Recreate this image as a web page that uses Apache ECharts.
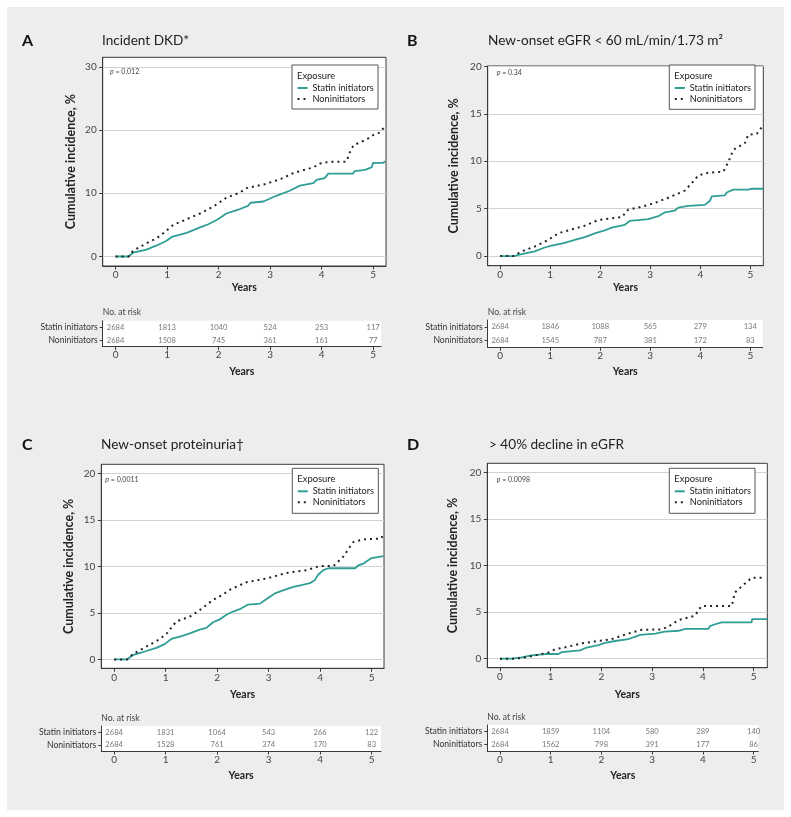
<!DOCTYPE html>
<html><head><meta charset="utf-8">
<script src="https://cdn.jsdelivr.net/npm/echarts@6/dist/echarts.min.js"></script>
<style>
html,body{margin:0;padding:0;background:#fff;}
#bg{position:absolute;left:7px;top:7px;width:777px;height:803px;background:#ecedec;}
#c{position:absolute;left:0;top:0;width:791px;height:817px;}
</style>
</head><body><div id="bg"></div><div id="c"></div>
<script>
// ---------------- DATA ----------------
const yearTicks = [0, 1, 2, 3, 4, 5];
const groups = ['Statin initiators', 'Noninitiators'];
const yTicksA = [0, 10, 20, 30];
const yTicksBCD = [0, 5, 10, 15, 20];

const titleA = 'Incident DKD*';
const titleB = 'New-onset eGFR < 60 mL/min/1.73 m²';
const titleC = 'New-onset proteinuria†';
const titleD = '> 40% decline in eGFR';

const pA = '0.012', pB = '0.34', pC = '0.0011', pD = '0.0098';

// cumulative incidence (%) vs years
const statinA = [[0,0],[0.25,0],[0.34,0.6],[0.6,1.1],[0.8,1.75],[0.99,2.5],[1.09,3.1],[1.38,3.75],[1.64,4.6],[1.8,5.1],[1.99,5.9],[2.15,6.8],[2.38,7.4],[2.57,8.0],[2.62,8.5],[2.87,8.7],[3.12,9.6],[3.38,10.4],[3.58,11.2],[3.84,11.6],[3.9,12.1],[4.06,12.4],[4.13,13.1],[4.61,13.1],[4.64,13.5],[4.84,13.7],[4.87,14.0],[4.97,14.1],[5.0,14.8],[5.2,14.8],[5.23,15.1]];
const nonA = [[0,0],[0.25,0],[0.34,0.9],[0.6,2.1],[0.8,2.9],[0.99,4.1],[1.12,5.0],[1.38,5.9],[1.64,6.8],[1.9,7.9],[2.15,9.3],[2.41,10.1],[2.54,10.8],[2.93,11.5],[3.25,12.4],[3.45,13.2],[3.84,14.1],[3.97,14.7],[4.16,15.0],[4.48,15.0],[4.55,16.5],[4.62,17.6],[4.87,18.5],[5.0,19.2],[5.13,19.6],[5.2,20.3],[5.23,20.7]];

const statinB = [[0,0],[0.27,0],[0.43,0.2],[0.69,0.5],[0.89,0.9],[1.03,1.1],[1.29,1.4],[1.49,1.7],[1.69,2.0],[1.89,2.4],[2.09,2.7],[2.23,3.0],[2.49,3.3],[2.59,3.7],[2.96,3.9],[3.16,4.2],[3.29,4.6],[3.49,4.8],[3.56,5.1],[3.76,5.3],[4.09,5.4],[4.19,5.8],[4.23,6.3],[4.49,6.4],[4.53,6.7],[4.66,7.0],[4.96,7.0],[5.03,7.1],[5.26,7.1]];
const nonB = [[0,0],[0.27,0],[0.43,0.5],[0.69,1.0],[0.96,1.7],[1.16,2.4],[1.36,2.7],[1.69,3.2],[1.96,3.8],[2.43,4.1],[2.56,4.9],[2.83,5.2],[3.09,5.6],[3.43,6.3],[3.69,6.9],[3.83,7.7],[3.96,8.5],[4.16,8.8],[4.46,8.9],[4.56,9.9],[4.66,11.2],[4.89,11.9],[4.96,12.8],[5.13,12.9],[5.23,13.6]];

const statinC = [[0,0],[0.25,0],[0.37,0.5],[0.56,0.8],[0.82,1.25],[0.98,1.65],[1.11,2.2],[1.31,2.5],[1.47,2.8],[1.66,3.2],[1.79,3.4],[1.92,4.0],[2.05,4.3],[2.18,4.8],[2.31,5.15],[2.44,5.4],[2.6,5.9],[2.83,6.0],[2.96,6.5],[3.12,7.1],[3.32,7.5],[3.48,7.8],[3.64,8.0],[3.8,8.2],[3.9,8.55],[3.96,9.1],[4.06,9.6],[4.16,9.8],[4.68,9.8],[4.74,10.1],[4.84,10.3],[5.0,10.9],[5.23,11.1]];
const nonC = [[0,0],[0.25,0],[0.37,0.6],[0.63,1.4],[0.89,2.2],[1.02,2.8],[1.21,4.1],[1.47,4.6],[1.66,5.3],[1.92,6.4],[2.09,6.9],[2.25,7.5],[2.57,8.3],[2.96,8.7],[3.35,9.3],[3.74,9.6],[4.0,10.05],[4.26,10.05],[4.45,11.05],[4.64,12.6],[4.84,12.9],[5.19,13.0],[5.23,13.6]];

const statinD = [[0,0],[0.25,0],[0.43,0.15],[0.62,0.35],[0.89,0.5],[1.15,0.5],[1.22,0.7],[1.58,0.9],[1.71,1.2],[1.94,1.45],[2.07,1.7],[2.27,1.9],[2.53,2.1],[2.63,2.3],[2.76,2.55],[3.06,2.7],[3.25,2.9],[3.52,3.0],[3.65,3.2],[4.11,3.2],[4.14,3.5],[4.24,3.7],[4.37,3.9],[4.96,3.9],[4.97,4.25],[5.27,4.25]];
const nonD = [[0,0],[0.25,0],[0.43,0.07],[0.69,0.35],[0.95,0.65],[1.08,1.0],[1.35,1.3],[1.61,1.65],[1.87,1.85],[2.2,2.1],[2.53,2.7],[2.79,3.1],[3.19,3.15],[3.32,3.45],[3.52,4.15],[3.84,4.6],[3.97,5.65],[4.57,5.65],[4.63,7.1],[4.76,7.75],[4.89,8.35],[4.96,8.7],[5.19,8.7]];

// number at risk at years 0..5
const riskStatinA = [2684, 1813, 1040, 524, 253, 117];
const riskNonA    = [2684, 1508, 745, 361, 161, 77];
const riskStatinB = [2684, 1846, 1088, 565, 279, 134];
const riskNonB    = [2684, 1545, 787, 381, 172, 83];
const riskStatinC = [2684, 1831, 1064, 543, 266, 122];
const riskNonC    = [2684, 1528, 761, 374, 170, 83];
const riskStatinD = [2684, 1859, 1104, 580, 289, 140];
const riskNonD    = [2684, 1562, 798, 391, 177, 86];

// ---------------- LAYOUT / STYLE ----------------
const FONT = 'Lato';
const TEAL = '#2f9e95';
const DARK = '#222';

const panels = [
  {letter:'A', title:titleA, p:pA, statin:statinA, non:nonA, rS:riskStatinA, rN:riskNonA, yTicks:yTicksA,
   plot:{l:102.7,t:57.3,r:386,b:266}, yr:[-1.5,31.5], xr:[-0.25,5.25],
   table:{l:102.7,t:320.7,r:381,b:346.7}, head:[22,41], titleX:102, yGap:25.5, xGap:16.5,
   box:{x:292,y:65,w:86,h:44}, pPos:[110,72]},
  {letter:'B', title:titleB, p:pB, statin:statinB, non:nonB, rS:riskStatinB, rN:riskNonB, yTicks:yTicksBCD,
   plot:{l:487.7,t:66,r:763.3,b:265.7}, yr:[-1.02,20.05], xr:[-0.25,5.26],
   table:{l:487.7,t:320,r:762.7,b:347.3}, head:[407,41], titleX:488, yGap:27.5, xGap:16.5,
   box:{x:669.3,y:65,w:85.7,h:44.3}, pPos:[496.7,72.3]},
  {letter:'C', title:titleC, p:pC, statin:statinC, non:nonC, rS:riskStatinC, rN:riskNonC, yTicks:yTicksBCD,
   plot:{l:101.3,t:464.3,r:384,b:668.3}, yr:[-0.95,20.97], xr:[-0.25,5.24],
   table:{l:101.3,t:726,r:381,b:751}, head:[22,445], titleX:101, yGap:26, xGap:20.5,
   box:{x:292.3,y:468.3,w:86,h:45}, pPos:[105.3,480]},
  {letter:'D', title:titleD, p:pD, statin:statinD, non:nonD, rS:riskStatinD, rN:riskNonD, yTicks:yTicksBCD,
   plot:{l:487.3,t:463.3,r:767.3,b:667.7}, yr:[-0.97,21.0], xr:[-0.25,5.27],
   table:{l:487.3,t:725,r:758.3,b:751}, head:[407,445], titleX:489, yGap:28, xGap:21,
   box:{x:669.3,y:468.3,w:85.7,h:45}, pPos:[496.7,480]}
];

const grid = [], xAxis = [], yAxis = [], series = [], legend = [], graphic = [];

panels.forEach((P, i) => {
  const gi = 2 * i, ti = 2 * i + 1;
  const pl = P.plot, tb = P.table;
  grid.push({left:pl.l, top:pl.t, width:pl.r-pl.l, height:pl.b-pl.t, show:true,
             backgroundColor:'#fff', borderColor:'#3a3a3a', borderWidth:1, containLabel:false});
  const pxPerYear = (pl.r - pl.l) / (P.xr[1] - P.xr[0]);
  const tMin = P.xr[0] + (tb.l - pl.l) / pxPerYear;
  const tMax = tMin + (tb.r - tb.l) / pxPerYear;
  grid.push({left:tb.l, top:tb.t, width:tb.r-tb.l, height:tb.b-tb.t, show:true,
             backgroundColor:'#fff', borderWidth:0, containLabel:false});

  const xCommon = (idx, min, max, gap, margin) => ({
    gridIndex: idx, type:'value', min, max,
    axisLine:{show:true, onZero:false, lineStyle:{color:'#3a3a3a', width:1}},
    axisTick:{show:true, length:3.5, customValues:yearTicks, lineStyle:{color:'#3a3a3a'}},
    axisLabel:{customValues:yearTicks, fontSize:10, color:'#444', margin, fontFamily:FONT},
    splitLine:{show:false},
    name:'Years', nameLocation:'middle', nameGap:gap,
    nameTextStyle:{fontWeight:'bold', fontSize:10.5, color:DARK, fontFamily:FONT}
  });
  xAxis.push(xCommon(gi, P.xr[0], P.xr[1], P.xGap, 4));
  xAxis.push(xCommon(ti, tMin, tMax, 19, 3.5));

  yAxis.push({gridIndex:gi, type:'value', min:P.yr[0], max:P.yr[1],
    axisLine:{show:true, onZero:false, lineStyle:{color:'#3a3a3a', width:1}},
    axisTick:{show:true, length:3.5, customValues:P.yTicks, lineStyle:{color:'#3a3a3a'}},
    axisLabel:{customValues:P.yTicks, fontSize:10, color:'#444', margin:6, fontFamily:FONT},
    splitLine:{show:true, lineStyle:{color:'#d2d2d2', width:1.2}},
    name:'Cumulative incidence, %', nameLocation:'middle', nameGap:P.yGap,
    nameTextStyle:{fontWeight:'bold', fontSize:12.5, color:DARK, fontFamily:FONT}
  });
  yAxis.push({gridIndex:ti, type:'category', data:groups, inverse:true,
    axisLine:{show:true, onZero:false, lineStyle:{color:'#3a3a3a', width:1}},
    axisTick:{show:true, length:3, alignWithLabel:true, lineStyle:{color:'#3a3a3a'}},
    axisLabel:{fontSize:8.6, color:'#333', margin:5, fontFamily:FONT},
    splitLine:{show:false}
  });

  series.push({name:groups[0], type:'line', xAxisIndex:gi, yAxisIndex:gi, data:P.statin,
    symbol:'none', showSymbol:false, z:3,
    lineStyle:{color:TEAL, width:1.8}, itemStyle:{color:TEAL}});
  series.push({name:groups[1], type:'line', xAxisIndex:gi, yAxisIndex:gi, data:P.non,
    symbol:'none', showSymbol:false, z:3,
    lineStyle:{color:DARK, width:2, type:[2,4]}, itemStyle:{color:DARK}});

  const riskData = [];
  yearTicks.forEach((yr, j) => {
    riskData.push([yr, 0, P.rS[j]]);
    riskData.push([yr, 1, P.rN[j]]);
  });
  series.push({type:'scatter', xAxisIndex:ti, yAxisIndex:ti, data:riskData,
    symbolSize:1, itemStyle:{color:'rgba(0,0,0,0)'}, silent:true,
    label:{show:true, position:'inside', formatter:(p) => String(p.value[2]),
           fontSize:7.6, color:'#555', fontFamily:FONT}});

  legend.push({orient:'vertical', left:P.box.x + 4.5, top:P.box.y + 18.5,
    itemWidth:10, itemHeight:9, itemGap:2, padding:0, selectedMode:false, z:10,
    itemStyle:{color:'rgba(0,0,0,0)', borderColor:'rgba(0,0,0,0)', borderWidth:0, opacity:0},
    data:groups, textStyle:{fontSize:9.2, color:DARK, fontFamily:FONT, lineHeight:9}});

  graphic.push({type:'text', x:P.head[0], y:P.head[1], z:10,
    style:{text:P.letter, font:'bold 16px ' + FONT, fill:'#111', textVerticalAlign:'middle'}});
  graphic.push({type:'text', x:P.titleX, y:P.head[1], z:10,
    style:{text:P.title, font:'13.6px ' + FONT, fill:DARK, textVerticalAlign:'middle'}});
  graphic.push({type:'rect', z:5, shape:{x:P.box.x, y:P.box.y, width:P.box.w, height:P.box.h},
    style:{fill:'#fff', stroke:'#555', lineWidth:1}});
  graphic.push({type:'text', x:P.box.x + 5, y:P.box.y + 10.5, z:11,
    style:{text:'Exposure', font:'9.4px ' + FONT, fill:DARK, textVerticalAlign:'middle'}});
  graphic.push({type:'text', x:P.pPos[0], y:P.pPos[1], z:11,
    style:{text:'{i|p} = ' + P.p, font:'7px ' + FONT, fill:'#444', textVerticalAlign:'middle',
           rich:{i:{fontStyle:'italic', fontSize:7, fontFamily:FONT, fill:'#444'}}}});
  graphic.push({type:'text', x:tb.l, y:tb.t - 8, z:11,
    style:{text:'No. at risk', font:'8.6px ' + FONT, fill:'#444', textVerticalAlign:'middle'}});
});

const chart = echarts.init(document.getElementById('c'), null, {renderer:'canvas'});
chart.setOption({
  animation:false,
  textStyle:{fontFamily:FONT},
  grid, xAxis, yAxis, series, legend, graphic
});
</script>
</body></html>
